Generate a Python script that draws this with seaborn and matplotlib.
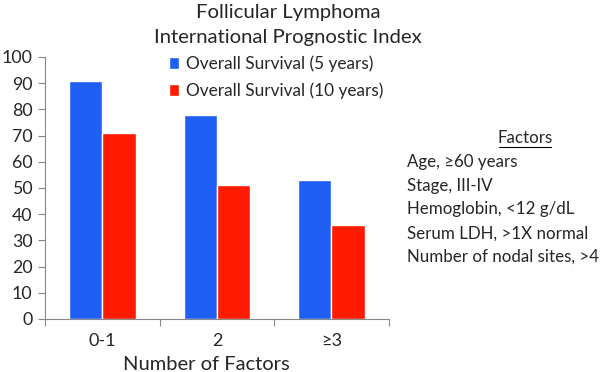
import pandas as pd
import matplotlib
matplotlib.use('Agg')
import matplotlib.pyplot as plt
import seaborn as sns

categories = ['0-1', '2', '≥3']
survival_5yr = [91, 78, 53]
survival_10yr = [71, 51, 36]
series_names = ['Overall Survival (5 years)', 'Overall Survival (10 years)']
factors = ['Age, ≥60 years', 'Stage, III-IV', 'Hemoglobin, <12 g/dL',
           'Serum LDH, >1X normal', 'Number of nodal sites, >4']

df = pd.DataFrame({
    'group': categories * 2,
    'series': [series_names[0]] * 3 + [series_names[1]] * 3,
    'value': survival_5yr + survival_10yr,
})

sns.set_style('white')
plt.rcParams['font.family'] = ['Lato', 'DejaVu Sans']

fig = plt.figure(figsize=(6, 3.72), dpi=100)
ax = fig.add_axes([0.075, 0.1425, 0.573, 0.7045])

sns.barplot(data=df, x='group', y='value', hue='series',
            palette=['#1f5ff5', '#ff1a00'], width=0.58, gap=0,
            saturation=1, ax=ax, legend=True)

ax.set_ylim(0, 100)
ax.set_yticks(range(0, 101, 10))
ax.set_xlim(-0.5, 2.5)
ax.set_xticks([-0.5, 0.5, 1.5, 2.5], minor=False)
ax.set_xticklabels([])
ax.set_xticks([0, 1, 2], minor=True)
ax.set_xticklabels(categories, minor=True, fontsize=13)
ax.tick_params(axis='x', which='minor', length=0, pad=10)
ax.tick_params(axis='x', which='major', length=5, direction='out', color='#888888')
ax.tick_params(axis='y', length=5, direction='out', color='#888888', labelsize=12.8, pad=4)
ax.xaxis.set_ticks_position('bottom')
ax.yaxis.set_ticks_position('left')
for s in ['top', 'right']:
    ax.spines[s].set_visible(False)
for s in ['left', 'bottom']:
    ax.spines[s].set_color('#888888')
ax.set_xlabel('Number of Factors', fontsize=14.5, labelpad=0)
ax.xaxis.set_label_coords(0.47, -0.14)
ax.set_ylabel('')

ax.legend(loc='upper left', bbox_to_anchor=(0.316, 1.066), frameon=False,
          fontsize=12.4, handlelength=0.6, handleheight=0.7, handletextpad=0.4,
          labelspacing=0.6)

fig.text(0.48, 0.99, 'Follicular Lymphoma\nInternational Prognostic Index',
         ha='center', va='top', fontsize=14.6, linespacing=1.6)

fig.text(0.875, 0.63, 'Factors', ha='center', va='center', fontsize=12.2)
fig.add_artist(plt.Line2D([0.832, 0.918], [0.605, 0.605], color='black', lw=0.8))
for i, f in enumerate(factors):
    fig.text(0.678, 0.565 - i * 0.064, f, ha='left', va='center', fontsize=12.2)

fig.savefig('out.png', dpi=100)
